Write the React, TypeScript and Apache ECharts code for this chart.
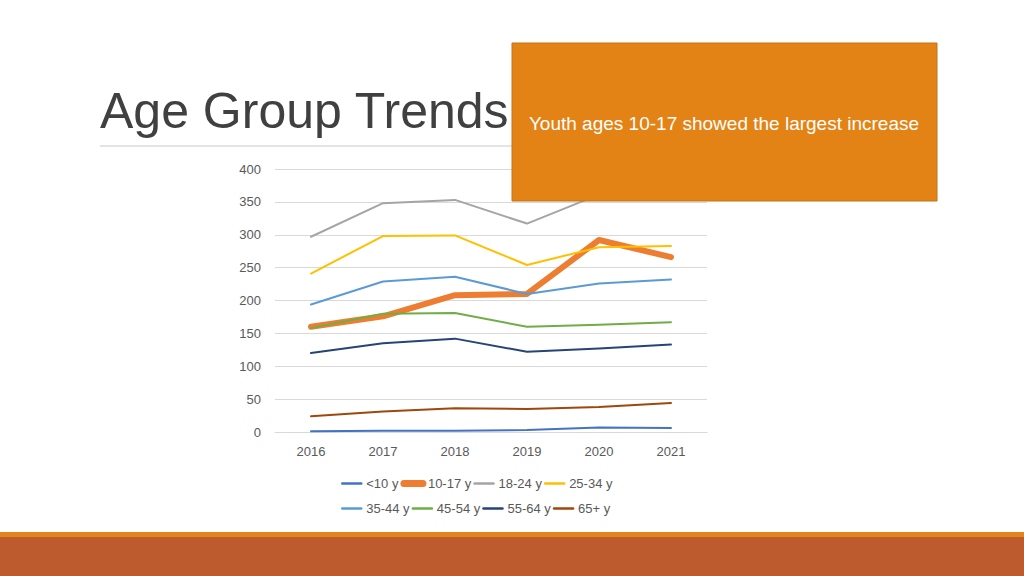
import React, { useEffect, useRef } from "react";
import * as echarts from "echarts";

const years = ["2016", "2017", "2018", "2019", "2020", "2021"];
const under10 = [1, 2, 2, 3, 7, 6];
const age10to17 = [160, 176, 208, 210, 292, 266];
const age18to24 = [297, 348, 353, 317, 361, 362];
const age25to34 = [241, 298, 299, 254, 281, 283];
const age35to44 = [194, 229, 236, 210, 226, 232];
const age45to54 = [158, 180, 181, 160, 163, 167];
const age55to64 = [120, 135, 142, 122, 127, 133];
const age65plus = [24, 31, 36, 35, 38, 44];

const seriesNames = ["<10 y", "10-17 y", "18-24 y", "25-34 y", "35-44 y", "45-54 y", "55-64 y", "65+ y"];
const seriesData = [under10, age10to17, age18to24, age25to34, age35to44, age45to54, age55to64, age65plus];
const seriesColors = ["#4472C4", "#ED7D31", "#A5A5A5", "#FFC000", "#5B9BD5", "#70AD47", "#264478", "#9E480E"];
const seriesWidths = [2, 6, 2, 2, 2, 2, 2, 2];

const titleText = "Age Group Trends";
const calloutText = "Youth ages 10-17 showed the largest increase";

export default function App() {
  const ref = useRef<HTMLDivElement>(null);
  useEffect(() => {
    if (!ref.current) return;
    const chart = echarts.init(ref.current, null, { renderer: "svg" });
    const font = "Liberation Sans, Arial, sans-serif";
    const legendItems = seriesNames.map((name, i) => ({
      name,
      lineStyle: { color: seriesColors[i], width: seriesWidths[i] === 2 ? 2.5 : 7, cap: "round" },
    }));
    const legendBase = {
      left: 336,
      itemWidth: 19,
      itemHeight: 12,
      itemGap: 2,
      itemStyle: { color: "transparent", borderWidth: 0, opacity: 0 },
      textStyle: { color: "#595959", fontSize: 13, fontFamily: font },
    };
    chart.setOption({
      animation: false,
      backgroundColor: "#ffffff",
      grid: { left: 275, right: 317, top: 169, bottom: 144, containLabel: false },
      xAxis: {
        type: "category",
        data: years,
        boundaryGap: true,
        axisLine: { show: true, lineStyle: { color: "#d9d9d9" } },
        axisTick: { show: false },
        axisLabel: { color: "#595959", fontSize: 13, fontFamily: font, margin: 13 },
      },
      yAxis: {
        type: "value",
        min: 0,
        max: 400,
        interval: 50,
        axisLine: { show: false },
        axisTick: { show: false },
        axisLabel: { color: "#595959", fontSize: 13, fontFamily: font, margin: 14 },
        splitLine: { lineStyle: { color: "#d9d9d9", width: 1 } },
      },
      legend: [
        { ...legendBase, data: legendItems.slice(0, 4), top: 472 },
        { ...legendBase, data: legendItems.slice(4), top: 497 },
      ],
      series: seriesNames.map((name, i) => ({
        name,
        type: "line",
        data: seriesData[i],
        symbol: "none",
        showSymbol: false,
        color: seriesColors[i],
        lineStyle: { color: seriesColors[i], width: seriesWidths[i], cap: "round", join: "round" },
      })),
      graphic: [
        {
          type: "text",
          left: 100,
          top: 86,
          z: 100,
          style: { text: titleText, fill: "#404040", fontSize: 50, fontFamily: font },
        },
        {
          type: "line",
          z: 100,
          shape: { x1: 100, y1: 146, x2: 512, y2: 146 },
          style: { stroke: "#c8c8c8", lineWidth: 1 },
        },
        {
          type: "rect",
          z: 100,
          shape: { x: 512, y: 43, width: 425, height: 158 },
          style: { fill: "#E38316", stroke: "#C07419", lineWidth: 1 },
        },
        {
          type: "text",
          z: 101,
          x: 724,
          y: 123,
          style: {
            text: calloutText,
            fill: "#ffffff",
            fontSize: 19,
            fontFamily: font,
            align: "center",
            verticalAlign: "middle",
          },
        },
        {
          type: "rect",
          z: 100,
          shape: { x: 0, y: 532, width: 1024, height: 5 },
          style: { fill: "#E0861C" },
        },
        {
          type: "rect",
          z: 100,
          shape: { x: 0, y: 537, width: 1024, height: 39 },
          style: { fill: "#BD5A2E" },
        },
      ],
    });
    return () => chart.dispose();
  }, []);
  return <div ref={ref} style={{ position: "fixed", left: 0, top: 0, width: 1024, height: 576 }} />;
}
